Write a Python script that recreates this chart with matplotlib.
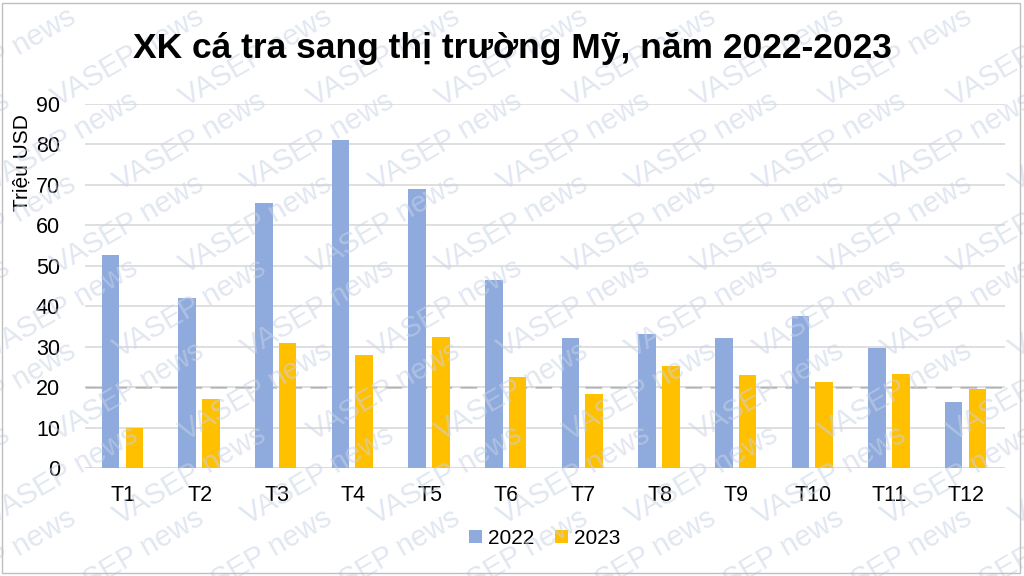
import matplotlib.pyplot as plt
import numpy as np

plt.rcParams['font.family'] = ['Liberation Sans', 'DejaVu Sans']

months = ['T1', 'T2', 'T3', 'T4', 'T5', 'T6', 'T7', 'T8', 'T9', 'T10', 'T11', 'T12']
xk_2022 = [52.7, 42.0, 65.6, 81.1, 69.0, 46.4, 32.1, 33.2, 32.2, 37.7, 29.6, 16.3]
xk_2023 = [9.9, 17.0, 30.8, 28.0, 32.5, 22.5, 18.2, 25.1, 23.0, 21.2, 23.2, 19.6]

fig = plt.figure(figsize=(10.24, 5.76), dpi=100)
ax = fig.add_axes([0.083, 0.1875, 0.898, 0.632])

x = np.arange(len(months))
w = 0.23
ax.bar(x - 0.165, xk_2022, w, color='#8FAADC', label='2022', zorder=3)
ax.bar(x + 0.145, xk_2023, w, color='#FFC000', label='2023', zorder=3)

ax.set_xlim(-0.5, len(months) - 0.5)
ax.set_ylim(0, 90)
ax.set_yticks(range(0, 91, 10))
ax.set_xticks(x)
ax.set_xticklabels(months)
ax.tick_params(axis='both', length=0, labelsize=15.5)
ax.tick_params(axis='x', pad=12)
ax.tick_params(axis='y', pad=18)
ax.grid(axis='y', color='#D9D9D9', linewidth=1.2, zorder=0)
for s in ax.spines.values():
    s.set_visible(False)
ax.axhline(0, color='#D9D9D9', linewidth=1.2, zorder=2)
ax.axhline(20, color='black', linewidth=1, linestyle=(0, (12, 6)), zorder=1)

ax.set_ylabel('Triệu USD', fontsize=15)
ax.yaxis.set_label_coords(-0.058, 0.84)

fig.suptitle('XK cá tra sang thị trường Mỹ, năm 2022-2023', fontsize=25.5,
             fontweight='bold', y=0.945)

ax.legend(loc='upper center', bbox_to_anchor=(0.5, -0.115), ncol=2, frameon=False,
          fontsize=15, handlelength=0.6, handleheight=0.6, handletextpad=0.3,
          columnspacing=1.0)

# watermark
for i in range(-1, 9):
    for j in range(0, 7):
        fig.text(i * 0.125 + (j % 2) * 0.06, j * 0.145 + 0.03, 'VASEP news', fontsize=21,
                 color='#C9D3E6', alpha=0.55, rotation=30, ha='center', va='center',
                 zorder=0.5)

fig.patches.append(plt.Rectangle((0.002, 0.005), 0.994, 0.99, transform=fig.transFigure,
                                 fill=False, edgecolor='#BFBFBF', linewidth=1))

fig.savefig('out.png', dpi=100)
